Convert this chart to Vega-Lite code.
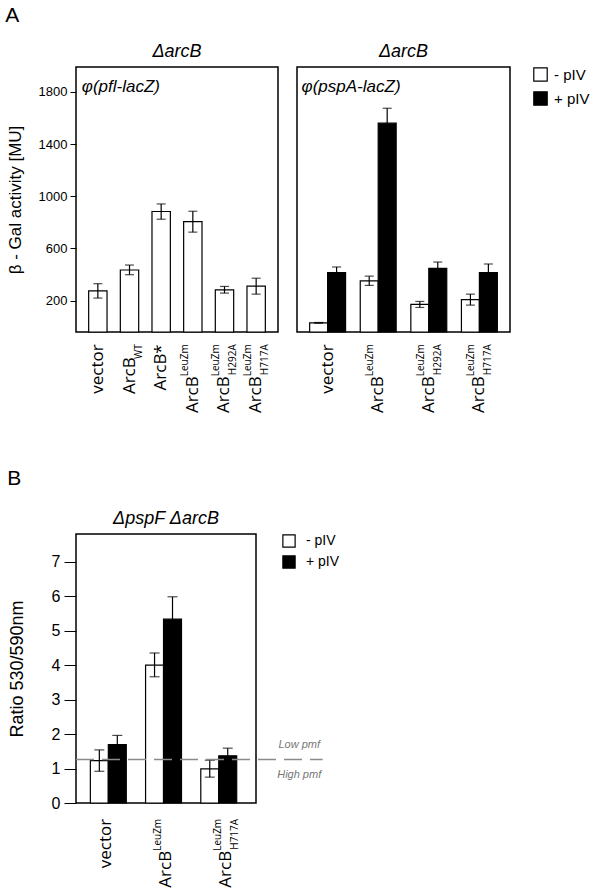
{
  "$schema": "https://vega.github.io/schema/vega-lite/v6.json",
  "background": "white",
  "padding": 5,
  "config": {
    "view": {"stroke": "black", "strokeWidth": 1.5},
    "font": "Liberation Sans",
    "axis": {"grid": false, "labelColor": "black", "titleColor": "black", "tickColor": "black", "domain": false, "labelOverlap": false}
  },
  "datasets": {
    "a": [
      {"construct": "vector", "pIV": "- pIV", "value": 275, "lo": 220, "hi": 330, "main": "vector", "sup": "", "sub": ""},
      {"construct": "ArcB_WT", "pIV": "- pIV", "value": 435, "lo": 399, "hi": 473, "main": "ArcB", "sup": "", "sub": "WT"},
      {"construct": "ArcB*", "pIV": "- pIV", "value": 883, "lo": 824, "hi": 941, "main": "ArcB*", "sup": "", "sub": ""},
      {"construct": "ArcB_LeuZm", "pIV": "- pIV", "value": 805, "lo": 725, "hi": 885, "main": "ArcB", "sup": "LeuZm", "sub": ""},
      {"construct": "ArcB_LeuZm_H292A", "pIV": "- pIV", "value": 283, "lo": 258, "hi": 309, "main": "ArcB", "sup": "LeuZm", "sub": "H292A"},
      {"construct": "ArcB_LeuZm_H717A", "pIV": "- pIV", "value": 312, "lo": 250, "hi": 372, "main": "ArcB", "sup": "LeuZm", "sub": "H717A"}
    ],
    "b": [
      {"construct": "vector", "pIV": "- pIV", "value": 30, "lo": 27, "hi": 33, "main": "vector", "sup": "", "sub": ""},
      {"construct": "vector", "pIV": "+ pIV", "value": 415, "lo": 372, "hi": 458, "main": "vector", "sup": "", "sub": ""},
      {"construct": "ArcB_LeuZm", "pIV": "- pIV", "value": 352, "lo": 317, "hi": 388, "main": "ArcB", "sup": "LeuZm", "sub": ""},
      {"construct": "ArcB_LeuZm", "pIV": "+ pIV", "value": 1560, "lo": 1447, "hi": 1674, "main": "ArcB", "sup": "LeuZm", "sub": ""},
      {"construct": "ArcB_LeuZm_H292A", "pIV": "- pIV", "value": 171, "lo": 148, "hi": 194, "main": "ArcB", "sup": "LeuZm", "sub": "H292A"},
      {"construct": "ArcB_LeuZm_H292A", "pIV": "+ pIV", "value": 448, "lo": 400, "hi": 496, "main": "ArcB", "sup": "LeuZm", "sub": "H292A"},
      {"construct": "ArcB_LeuZm_H717A", "pIV": "- pIV", "value": 208, "lo": 166, "hi": 250, "main": "ArcB", "sup": "LeuZm", "sub": "H717A"},
      {"construct": "ArcB_LeuZm_H717A", "pIV": "+ pIV", "value": 415, "lo": 349, "hi": 481, "main": "ArcB", "sup": "LeuZm", "sub": "H717A"}
    ],
    "c": [
      {"construct": "vector", "pIV": "- pIV", "value": 1.23, "lo": 0.92, "hi": 1.54, "main": "vector", "sup": "", "sub": ""},
      {"construct": "vector", "pIV": "+ pIV", "value": 1.69, "lo": 1.42, "hi": 1.96, "main": "vector", "sup": "", "sub": ""},
      {"construct": "ArcB_LeuZm", "pIV": "- pIV", "value": 4.0, "lo": 3.66, "hi": 4.35, "main": "ArcB", "sup": "LeuZm", "sub": ""},
      {"construct": "ArcB_LeuZm", "pIV": "+ pIV", "value": 5.33, "lo": 4.68, "hi": 5.98, "main": "ArcB", "sup": "LeuZm", "sub": ""},
      {"construct": "ArcB_LeuZm_H717A", "pIV": "- pIV", "value": 0.99, "lo": 0.75, "hi": 1.24, "main": "ArcB", "sup": "LeuZm", "sub": "H717A"},
      {"construct": "ArcB_LeuZm_H717A", "pIV": "+ pIV", "value": 1.37, "lo": 1.15, "hi": 1.59, "main": "ArcB", "sup": "LeuZm", "sub": "H717A"}
    ]
  },
  "spacing": 54,
  "resolve": {"scale": {"fill": "independent"}, "legend": {"fill": "independent"}},
  "vconcat": [
    {
      "title": {"text": "A", "anchor": "start", "frame": "bounds", "fontSize": 21, "fontWeight": "normal", "offset": 16, "font": "Liberation Sans"},
      "spacing": 17,
      "hconcat": [
        {
          "width": 202,
          "height": 265,
          "title": {"text": "ΔarcB", "fontStyle": "italic", "fontSize": 18, "fontWeight": "normal", "offset": 6, "font": "Liberation Sans"},
          "data": {"name": "a"},
          "layer": [
            {
              "mark": {"type": "bar", "stroke": "black", "strokeWidth": 1.2},
              "encoding": {
                "x": {"field": "construct", "type": "nominal", "sort": ["vector", "ArcB_WT", "ArcB*", "ArcB_LeuZm", "ArcB_LeuZm_H292A", "ArcB_LeuZm_H717A"], "scale": {"paddingInner": 0.42, "paddingOuter": 0.4}, "axis": null},
                "y": {"field": "value", "type": "quantitative", "scale": {"domain": [-40, 1990], "nice": false, "zero": false},
                  "axis": {"title": "β - Gal activity [MU]", "values": [200, 600, 1000, 1400, 1800], "format": "d", "labelOverlap": false, "tickSize": 6, "labelPadding": 3, "labelFont": "Liberation Sans", "labelFontSize": 13, "titleFontSize": 17, "titleFontWeight": "normal", "titlePadding": 14, "minExtent": 35}},
                "y2": {"datum": -40},
                "fill": {"field": "pIV", "type": "nominal", "scale": {"domain": ["- pIV", "+ pIV"], "range": ["white", "black"]},
                  "legend": {"title": null, "orient": "right", "offset": 22, "symbolType": "square", "symbolSize": 180, "symbolStrokeColor": "black", "symbolStrokeWidth": 1.2, "labelFontSize": 15, "labelFont": "Liberation Sans", "labelColor": "black", "rowPadding": 5, "labelOffset": 6}}
              }
            },
            {
              "mark": {"type": "rule", "color": "black", "strokeWidth": 1.2},
              "encoding": {
                "x": {"field": "construct", "type": "nominal", "sort": ["vector", "ArcB_WT", "ArcB*", "ArcB_LeuZm", "ArcB_LeuZm_H292A", "ArcB_LeuZm_H717A"]},
                "y": {"field": "lo", "type": "quantitative"},
                "y2": {"field": "hi"}
              }
            },
            {
              "mark": {"type": "tick", "color": "black", "size": 9, "thickness": 1.2},
              "encoding": {
                "x": {"field": "construct", "type": "nominal", "sort": ["vector", "ArcB_WT", "ArcB*", "ArcB_LeuZm", "ArcB_LeuZm_H292A", "ArcB_LeuZm_H717A"]},
                "y": {"field": "lo", "type": "quantitative"}
              }
            },
            {
              "mark": {"type": "tick", "color": "black", "size": 9, "thickness": 1.2},
              "encoding": {
                "x": {"field": "construct", "type": "nominal", "sort": ["vector", "ArcB_WT", "ArcB*", "ArcB_LeuZm", "ArcB_LeuZm_H292A", "ArcB_LeuZm_H717A"]},
                "y": {"field": "hi", "type": "quantitative"}
              }
            },
            {
              "transform": [{"filter": "datum.sup == '' && datum.sub == ''"}],
              "mark": {"type": "text", "angle": 270, "align": "right", "baseline": "middle", "font": "Open Sans", "fontSize": 17, "color": "black"},
              "encoding": {
                "x": {"field": "construct", "type": "nominal", "sort": ["vector", "ArcB_WT", "ArcB*", "ArcB_LeuZm", "ArcB_LeuZm_H292A", "ArcB_LeuZm_H717A"]},
                "y": {"datum": -134},
                "text": {"field": "main"}
              }
            },
            {
              "transform": [{"filter": "datum.sup == '' && datum.sub != ''"}],
              "mark": {"type": "text", "angle": 270, "align": "right", "baseline": "middle", "dx": -13, "font": "Open Sans", "fontSize": 17, "color": "black"},
              "encoding": {
                "x": {"field": "construct", "type": "nominal", "sort": ["vector", "ArcB_WT", "ArcB*", "ArcB_LeuZm", "ArcB_LeuZm_H292A", "ArcB_LeuZm_H717A"]},
                "y": {"datum": -134},
                "text": {"field": "main"}
              }
            },
            {
              "transform": [{"filter": "datum.sup != ''"}],
              "mark": {"type": "text", "angle": 270, "align": "right", "baseline": "middle", "dx": -32, "font": "Open Sans", "fontSize": 17, "color": "black"},
              "encoding": {
                "x": {"field": "construct", "type": "nominal", "sort": ["vector", "ArcB_WT", "ArcB*", "ArcB_LeuZm", "ArcB_LeuZm_H292A", "ArcB_LeuZm_H717A"]},
                "y": {"datum": -134},
                "text": {"field": "main"}
              }
            },
            {
              "mark": {"type": "text", "angle": 270, "align": "right", "baseline": "middle", "dy": -8, "font": "Open Sans", "fontSize": 10, "color": "black"},
              "encoding": {
                "x": {"field": "construct", "type": "nominal", "sort": ["vector", "ArcB_WT", "ArcB*", "ArcB_LeuZm", "ArcB_LeuZm_H292A", "ArcB_LeuZm_H717A"]},
                "y": {"datum": -134},
                "text": {"field": "sup"}
              }
            },
            {
              "mark": {"type": "text", "angle": 270, "align": "right", "baseline": "middle", "dy": 9, "font": "Open Sans", "fontSize": 10, "color": "black"},
              "encoding": {
                "x": {"field": "construct", "type": "nominal", "sort": ["vector", "ArcB_WT", "ArcB*", "ArcB_LeuZm", "ArcB_LeuZm_H292A", "ArcB_LeuZm_H717A"]},
                "y": {"datum": -134},
                "text": {"field": "sub"}
              }
            },
            {
              "data": {"values": [{"label": "φ(pfl-lacZ)"}]},
              "mark": {"type": "text", "align": "left", "baseline": "middle", "dx": -16, "fontStyle": "italic", "fontSize": 17, "font": "Liberation Sans", "color": "black"},
              "encoding": {
                "x": {"datum": "vector", "type": "nominal"},
                "y": {"datum": 1840},
                "text": {"field": "label"}
              }
            }
          ]
        },
        {
          "width": 213,
          "height": 265,
          "title": {"text": "ΔarcB", "fontStyle": "italic", "fontSize": 18, "fontWeight": "normal", "offset": 6, "font": "Liberation Sans"},
          "data": {"name": "b"},
          "layer": [
            {
              "mark": {"type": "bar", "stroke": "black", "strokeWidth": 1.2},
              "encoding": {
                "x": {"field": "construct", "type": "nominal", "sort": ["vector", "ArcB_LeuZm", "ArcB_LeuZm_H292A", "ArcB_LeuZm_H717A"], "scale": {"paddingInner": 0.29, "paddingOuter": 0.25}, "axis": null},
                "xOffset": {"field": "pIV", "type": "nominal", "sort": ["- pIV", "+ pIV"]},
                "y": {"field": "value", "type": "quantitative", "scale": {"domain": [-40, 1990], "nice": false, "zero": false}, "axis": null},
                "y2": {"datum": -40},
                "fill": {"field": "pIV", "type": "nominal", "scale": {"domain": ["- pIV", "+ pIV"], "range": ["white", "black"]},
                  "legend": {"title": null, "orient": "right", "offset": 22, "symbolType": "square", "symbolSize": 180, "symbolStrokeColor": "black", "symbolStrokeWidth": 1.2, "labelFontSize": 15, "labelFont": "Liberation Sans", "labelColor": "black", "rowPadding": 5, "labelOffset": 6}}
              }
            },
            {
              "mark": {"type": "rule", "color": "black", "strokeWidth": 1.2},
              "encoding": {
                "x": {"field": "construct", "type": "nominal", "sort": ["vector", "ArcB_LeuZm", "ArcB_LeuZm_H292A", "ArcB_LeuZm_H717A"]},
                "xOffset": {"field": "pIV", "type": "nominal", "sort": ["- pIV", "+ pIV"]},
                "y": {"field": "lo", "type": "quantitative"},
                "y2": {"field": "hi"}
              }
            },
            {
              "mark": {"type": "tick", "color": "black", "size": 9, "thickness": 1.2},
              "encoding": {
                "x": {"field": "construct", "type": "nominal", "sort": ["vector", "ArcB_LeuZm", "ArcB_LeuZm_H292A", "ArcB_LeuZm_H717A"]},
                "xOffset": {"field": "pIV", "type": "nominal", "sort": ["- pIV", "+ pIV"]},
                "y": {"field": "lo", "type": "quantitative"}
              }
            },
            {
              "mark": {"type": "tick", "color": "black", "size": 9, "thickness": 1.2},
              "encoding": {
                "x": {"field": "construct", "type": "nominal", "sort": ["vector", "ArcB_LeuZm", "ArcB_LeuZm_H292A", "ArcB_LeuZm_H717A"]},
                "xOffset": {"field": "pIV", "type": "nominal", "sort": ["- pIV", "+ pIV"]},
                "y": {"field": "hi", "type": "quantitative"}
              }
            },
            {
              "transform": [{"filter": "datum.pIV == '- pIV' && datum.sup == ''"}],
              "mark": {"type": "text", "angle": 270, "align": "right", "baseline": "middle", "font": "Open Sans", "fontSize": 17, "color": "black"},
              "encoding": {
                "x": {"field": "construct", "type": "nominal", "sort": ["vector", "ArcB_LeuZm", "ArcB_LeuZm_H292A", "ArcB_LeuZm_H717A"]},
                "y": {"datum": -134},
                "text": {"field": "main"}
              }
            },
            {
              "transform": [{"filter": "datum.pIV == '- pIV' && datum.sup != ''"}],
              "mark": {"type": "text", "angle": 270, "align": "right", "baseline": "middle", "dx": -32, "font": "Open Sans", "fontSize": 17, "color": "black"},
              "encoding": {
                "x": {"field": "construct", "type": "nominal", "sort": ["vector", "ArcB_LeuZm", "ArcB_LeuZm_H292A", "ArcB_LeuZm_H717A"]},
                "y": {"datum": -134},
                "text": {"field": "main"}
              }
            },
            {
              "transform": [{"filter": "datum.pIV == '- pIV'"}],
              "mark": {"type": "text", "angle": 270, "align": "right", "baseline": "middle", "dy": -8, "font": "Open Sans", "fontSize": 10, "color": "black"},
              "encoding": {
                "x": {"field": "construct", "type": "nominal", "sort": ["vector", "ArcB_LeuZm", "ArcB_LeuZm_H292A", "ArcB_LeuZm_H717A"]},
                "y": {"datum": -134},
                "text": {"field": "sup"}
              }
            },
            {
              "transform": [{"filter": "datum.pIV == '- pIV'"}],
              "mark": {"type": "text", "angle": 270, "align": "right", "baseline": "middle", "dy": 9, "font": "Open Sans", "fontSize": 10, "color": "black"},
              "encoding": {
                "x": {"field": "construct", "type": "nominal", "sort": ["vector", "ArcB_LeuZm", "ArcB_LeuZm_H292A", "ArcB_LeuZm_H717A"]},
                "y": {"datum": -134},
                "text": {"field": "sub"}
              }
            },
            {
              "data": {"values": [{"label": "φ(pspA-lacZ)"}]},
              "mark": {"type": "text", "align": "left", "baseline": "middle", "dx": -26, "fontStyle": "italic", "fontSize": 17, "font": "Liberation Sans", "color": "black"},
              "encoding": {
                "x": {"datum": "vector", "type": "nominal"},
                "y": {"datum": 1840},
                "text": {"field": "label"}
              }
            }
          ]
        }
      ]
    },
    {
      "title": {"text": "B", "anchor": "start", "frame": "bounds", "fontSize": 21, "fontWeight": "normal", "offset": 20, "font": "Liberation Sans"},
      "hconcat": [
        {
          "width": 180,
          "height": 269,
          "title": {"text": "ΔpspF ΔarcB", "fontStyle": "italic", "fontSize": 18, "fontWeight": "normal", "offset": 6, "font": "Liberation Sans"},
          "data": {"name": "c"},
          "resolve": {"scale": {"x": "independent"}, "axis": {"x": "independent"}},
          "layer": [
            {
              "mark": {"type": "bar", "stroke": "black", "strokeWidth": 1.2},
              "encoding": {
                "x": {"field": "construct", "type": "nominal", "sort": ["vector", "ArcB_LeuZm", "ArcB_LeuZm_H717A"], "scale": {"domain": ["vector", "ArcB_LeuZm", "ArcB_LeuZm_H717A"], "paddingInner": 0.26, "paddingOuter": 0.26}, "axis": null},
                "xOffset": {"field": "pIV", "type": "nominal", "sort": ["- pIV", "+ pIV"]},
                "y": {"field": "value", "type": "quantitative", "scale": {"domain": [0, 7.8], "nice": false, "zero": false},
                  "axis": {"title": "Ratio 530/590nm", "values": [0, 1, 2, 3, 4, 5, 6, 7], "tickCount": 8, "labelOverlap": false, "tickSize": 12, "labelPadding": 4, "labelFont": "Liberation Sans", "labelFontSize": 16, "titleFontSize": 18, "titleFontWeight": "normal", "titlePadding": 25, "minExtent": 0}},
                "y2": {"datum": 0},
                "fill": {"field": "pIV", "type": "nominal", "scale": {"domain": ["- pIV", "+ pIV"], "range": ["white", "black"]},
                  "legend": {"title": null, "orient": "right", "offset": -43, "symbolType": "square", "symbolSize": 150, "symbolStrokeColor": "black", "symbolStrokeWidth": 1.2, "labelFontSize": 14, "labelFont": "Liberation Sans", "labelColor": "black", "rowPadding": 3, "labelOffset": 10}}
              }
            },
            {
              "mark": {"type": "rule", "color": "black", "strokeWidth": 1.2},
              "encoding": {
                "x": {"field": "construct", "type": "nominal", "sort": ["vector", "ArcB_LeuZm", "ArcB_LeuZm_H717A"], "scale": {"domain": ["vector", "ArcB_LeuZm", "ArcB_LeuZm_H717A"], "paddingInner": 0.26, "paddingOuter": 0.26}, "axis": null},
                "xOffset": {"field": "pIV", "type": "nominal", "sort": ["- pIV", "+ pIV"]},
                "y": {"field": "lo", "type": "quantitative"},
                "y2": {"field": "hi"}
              }
            },
            {
              "mark": {"type": "tick", "color": "black", "size": 10, "thickness": 1.2},
              "encoding": {
                "x": {"field": "construct", "type": "nominal", "sort": ["vector", "ArcB_LeuZm", "ArcB_LeuZm_H717A"], "scale": {"domain": ["vector", "ArcB_LeuZm", "ArcB_LeuZm_H717A"], "paddingInner": 0.26, "paddingOuter": 0.26}, "axis": null},
                "xOffset": {"field": "pIV", "type": "nominal", "sort": ["- pIV", "+ pIV"]},
                "y": {"field": "lo", "type": "quantitative"}
              }
            },
            {
              "mark": {"type": "tick", "color": "black", "size": 10, "thickness": 1.2},
              "encoding": {
                "x": {"field": "construct", "type": "nominal", "sort": ["vector", "ArcB_LeuZm", "ArcB_LeuZm_H717A"], "scale": {"domain": ["vector", "ArcB_LeuZm", "ArcB_LeuZm_H717A"], "paddingInner": 0.26, "paddingOuter": 0.26}, "axis": null},
                "xOffset": {"field": "pIV", "type": "nominal", "sort": ["- pIV", "+ pIV"]},
                "y": {"field": "hi", "type": "quantitative"}
              }
            },
            {
              "transform": [{"filter": "datum.pIV == '- pIV' && datum.sup == ''"}],
              "mark": {"type": "text", "angle": 270, "align": "right", "baseline": "middle", "font": "Open Sans", "fontSize": 17, "color": "black"},
              "encoding": {
                "x": {"field": "construct", "type": "nominal", "sort": ["vector", "ArcB_LeuZm", "ArcB_LeuZm_H717A"], "scale": {"domain": ["vector", "ArcB_LeuZm", "ArcB_LeuZm_H717A"], "paddingInner": 0.26, "paddingOuter": 0.26}, "axis": null},
                "y": {"datum": -0.46},
                "text": {"field": "main"}
              }
            },
            {
              "transform": [{"filter": "datum.pIV == '- pIV' && datum.sup != ''"}],
              "mark": {"type": "text", "angle": 270, "align": "right", "baseline": "middle", "dx": -32, "font": "Open Sans", "fontSize": 17, "color": "black"},
              "encoding": {
                "x": {"field": "construct", "type": "nominal", "sort": ["vector", "ArcB_LeuZm", "ArcB_LeuZm_H717A"], "scale": {"domain": ["vector", "ArcB_LeuZm", "ArcB_LeuZm_H717A"], "paddingInner": 0.26, "paddingOuter": 0.26}, "axis": null},
                "y": {"datum": -0.46},
                "text": {"field": "main"}
              }
            },
            {
              "transform": [{"filter": "datum.pIV == '- pIV'"}],
              "mark": {"type": "text", "angle": 270, "align": "right", "baseline": "middle", "dy": -8, "font": "Open Sans", "fontSize": 10, "color": "black"},
              "encoding": {
                "x": {"field": "construct", "type": "nominal", "sort": ["vector", "ArcB_LeuZm", "ArcB_LeuZm_H717A"], "scale": {"domain": ["vector", "ArcB_LeuZm", "ArcB_LeuZm_H717A"], "paddingInner": 0.26, "paddingOuter": 0.26}, "axis": null},
                "y": {"datum": -0.46},
                "text": {"field": "sup"}
              }
            },
            {
              "transform": [{"filter": "datum.pIV == '- pIV'"}],
              "mark": {"type": "text", "angle": 270, "align": "right", "baseline": "middle", "dy": 9, "font": "Open Sans", "fontSize": 10, "color": "black"},
              "encoding": {
                "x": {"field": "construct", "type": "nominal", "sort": ["vector", "ArcB_LeuZm", "ArcB_LeuZm_H717A"], "scale": {"domain": ["vector", "ArcB_LeuZm", "ArcB_LeuZm_H717A"], "paddingInner": 0.26, "paddingOuter": 0.26}, "axis": null},
                "y": {"datum": -0.46},
                "text": {"field": "sub"}
              }
            },
            {
              "data": {"values": [{"line": "pmf"}]},
              "mark": {"type": "rule", "color": "#8a8a8a", "strokeWidth": 1.5, "strokeDash": [18, 8]},
              "encoding": {
                "x": {"datum": 0, "type": "quantitative", "scale": {"domain": [0, 1]}, "axis": null},
                "x2": {"datum": 1.37},
                "y": {"datum": 1.26}
              }
            },
            {
              "data": {"values": [{"label": "Low pmf"}]},
              "mark": {"type": "text", "align": "center", "baseline": "middle", "dy": -15, "font": "Liberation Sans", "fontStyle": "italic", "fontSize": 11, "color": "#777777"},
              "encoding": {
                "x": {"datum": 1.24, "type": "quantitative", "scale": {"domain": [0, 1]}, "axis": null},
                "y": {"datum": 1.26},
                "text": {"field": "label"}
              }
            },
            {
              "data": {"values": [{"label": "High pmf"}]},
              "mark": {"type": "text", "align": "center", "baseline": "middle", "dy": 15, "font": "Liberation Sans", "fontStyle": "italic", "fontSize": 11, "color": "#777777"},
              "encoding": {
                "x": {"datum": 1.24, "type": "quantitative", "scale": {"domain": [0, 1]}, "axis": null},
                "y": {"datum": 1.26},
                "text": {"field": "label"}
              }
            }
          ]
        }
      ]
    }
  ]
}
